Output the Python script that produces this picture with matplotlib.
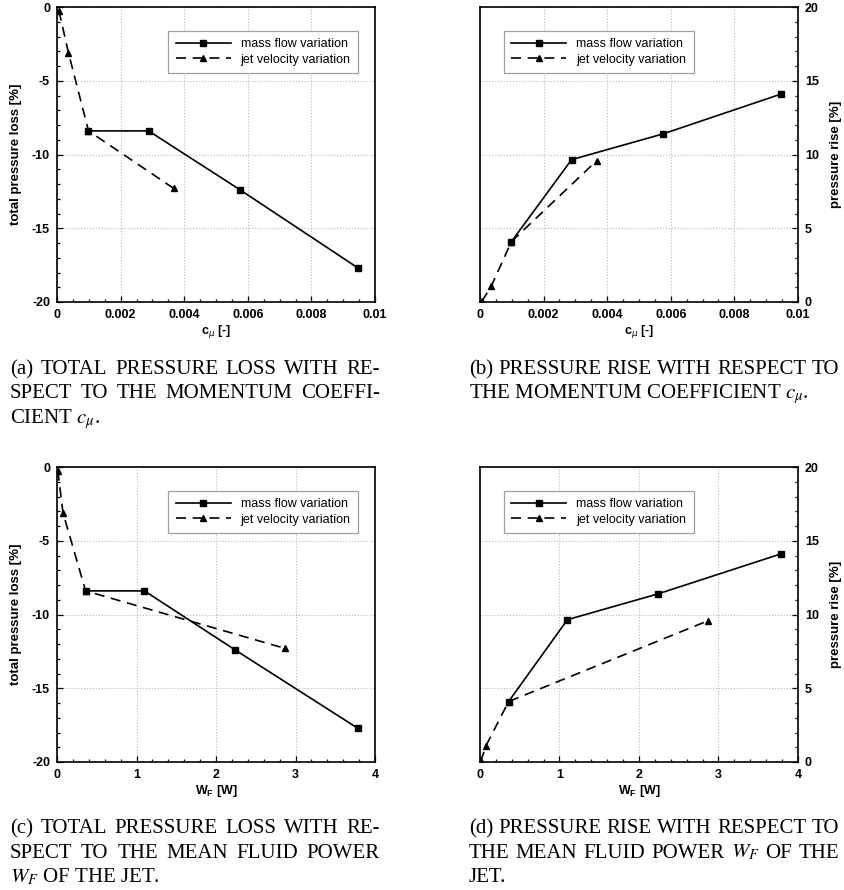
import matplotlib
matplotlib.use("Agg")
import matplotlib.pyplot as plt
from matplotlib.ticker import MultipleLocator, FuncFormatter

# data
cmu_mass = [0.00099, 0.00288, 0.00576, 0.00947]
cmu_jet = [0.00006, 0.00036, 0.00099, 0.00367]
wf_mass = [0.36, 1.10, 2.24, 3.78]
wf_jet = [0.01, 0.075, 0.36, 2.87]
loss_mass = [-8.4, -8.4, -12.4, -17.7]
loss_jet = [-0.25, -3.1, -8.4, -12.3]
rise_mass = [4.1, 9.65, 11.4, 14.1]
rise_jet = [0.05, 1.1, 4.1, 9.58]

captions = {
    "a": ["(a) TOTAL PRESSURE LOSS WITH RE-",
          "SPECT TO THE MOMENTUM COEFFI-",
          r"CIENT $c_\mu$."],
    "b": ["(b) PRESSURE RISE WITH RESPECT TO",
          r"THE MOMENTUM COEFFICIENT $c_\mu$."],
    "c": ["(c) TOTAL PRESSURE LOSS WITH RE-",
          "SPECT TO THE MEAN FLUID POWER",
          r"$W_F$ OF THE JET."],
    "d": ["(d) PRESSURE RISE WITH RESPECT TO",
          r"THE MEAN FLUID POWER $W_F$ OF THE",
          "JET."],
}

W, H = 845, 890
plt.rcParams['font.family'] = ['Liberation Sans', 'DejaVu Sans']
plt.rcParams['legend.handlelength'] = 4.4
plt.rcParams['legend.handletextpad'] = 0.8
plt.rcParams['legend.borderpad'] = 0.6
plt.rcParams['legend.labelspacing'] = 0.25
plt.rcParams['legend.borderaxespad'] = 0
plt.rcParams['legend.framealpha'] = 1
plt.rcParams['legend.fontsize'] = 9

fig = plt.figure(figsize=(W / 100, H / 100), dpi=100)


def fmt(v, pos):
    return '%g' % v


def make_axes(left_px, top_px, x, ys, xlabel, ylabel, right, xmax, xmaj, xmin, ylim):
    ax = fig.add_axes([left_px / W, 1 - (top_px + 295) / H, 318 / W, 295 / H])
    ax.plot(x[0], ys[0], color='black', lw=1.2, marker='s', ms=4.4,
            label='mass flow variation')
    ax.plot(x[1], ys[1], color='black', lw=1.2, ls=(0, (6, 4)), marker='^', ms=4.9,
            label='jet velocity variation')
    ax.set_xlim(0, xmax)
    ax.set_ylim(*ylim)
    ax.xaxis.set_major_locator(MultipleLocator(xmaj))
    ax.xaxis.set_minor_locator(MultipleLocator(xmin))
    ax.yaxis.set_major_locator(MultipleLocator(5))
    ax.yaxis.set_minor_locator(MultipleLocator(1))
    ax.xaxis.set_major_formatter(FuncFormatter(fmt))
    ax.yaxis.set_major_formatter(FuncFormatter(fmt))
    ax.grid(True, which='major', ls=':', color='#b8b8b8', lw=0.8)
    ax.tick_params(which='both', direction='in', labelsize=9, width=0.9,
                   top=False, left=not right, right=right,
                   labelleft=not right, labelright=right)
    ax.tick_params(which='major', length=4.5, pad=5)
    ax.tick_params(which='minor', length=2.3)
    for lab in ax.get_xticklabels() + ax.get_yticklabels():
        lab.set_fontweight('bold')
    for s in ax.spines.values():
        s.set_linewidth(1.2)
    ax.set_xlabel(xlabel, fontsize=9, fontweight='bold')
    ax.xaxis.set_label_coords(0.5, -0.072)
    ax.set_ylabel(ylabel, fontsize=9.5, fontweight='bold')
    if right:
        ax.yaxis.set_label_position('right')
        ax.yaxis.set_label_coords(1.101, 0.5)
        leg = ax.legend(loc='upper left', bbox_to_anchor=(0.075, 0.919))
    else:
        ax.yaxis.set_label_coords(-0.11, 0.5)
        leg = ax.legend(loc='upper right', bbox_to_anchor=(0.947, 0.919))
    fr = leg.get_frame()
    fr.set_boxstyle('square', pad=0)
    fr.set_edgecolor('#a0a0a0')
    fr.set_linewidth(0.9)
    return ax


cmu_lab = r'c$_{\mu}$ [-]'
wf_lab = r'W$_{\mathregular{F}}$ [W]'

make_axes(57, 7, (cmu_mass, cmu_jet), (loss_mass, loss_jet), cmu_lab,
          'total pressure loss [%]', False, 0.01, 0.002, 0.0005, (-20, 0))
make_axes(480, 7, (cmu_mass, cmu_jet), (rise_mass, rise_jet), cmu_lab,
          'pressure rise [%]', True, 0.01, 0.002, 0.0005, (0, 20))
make_axes(57, 467, (wf_mass, wf_jet), (loss_mass, loss_jet), wf_lab,
          'total pressure loss [%]', False, 4, 1, 0.2, (-20, 0))
make_axes(480, 467, (wf_mass, wf_jet), (rise_mass, rise_jet), wf_lab,
          'pressure rise [%]', True, 4, 1, 0.2, (0, 20))

# captions, justified like the paper's columns
renderer = fig.canvas.get_renderer()
cap_kw = dict(fontsize=15, family='Liberation Serif', math_fontfamily='stix',
              va='baseline', ha='left')


def caption(lines, x0, x1, y0, justify):
    for i, line in enumerate(lines):
        yb = 1 - (y0 + i * 24.5) / H
        words = line.split(' ')
        if not justify[i]:
            fig.text(x0 / W, yb, line, **cap_kw)
            continue
        texts = [fig.text(0, yb, w, **cap_kw) for w in words]
        widths = [t.get_window_extent(renderer).width for t in texts]
        gap = max((x1 - x0 - sum(widths)) / (len(words) - 1), 3.5)
        xp = x0
        for t, w in zip(texts, widths):
            t.set_x(xp / W)
            xp += w + gap


caption(captions["a"], 10, 380, 374, [True, True, False])
caption(captions["b"], 469, 839, 374, [True, False])
caption(captions["c"], 10, 380, 833, [True, True, False])
caption(captions["d"], 469, 839, 833, [True, True, False])

fig.savefig('out.png', dpi=100)
